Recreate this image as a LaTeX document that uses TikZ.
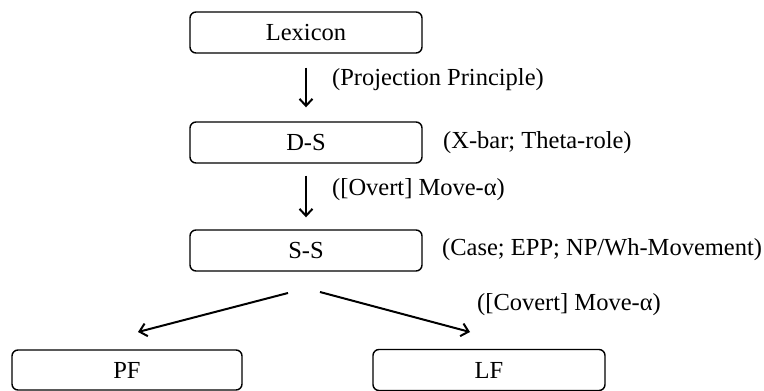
\documentclass[tikz,border=0pt]{standalone}
\usepackage{fontspec}
\setmainfont{Liberation Serif}
\usetikzlibrary{arrows.meta}
\begin{document}
\begin{tikzpicture}[x=1pt,y=-1pt,
  level/.style={draw,line width=1.4pt,rounded corners=6pt,minimum width=232pt,
    minimum height=41pt,inner sep=0pt,font=\fontsize{24.5}{29}\selectfont},
  note/.style={anchor=west,inner sep=0pt,font=\fontsize{24.5}{29}\selectfont},
  flow/.style={line width=2pt,-{Straight Barb[length=7pt,width=13pt,line width=2pt]}}]
\useasboundingbox (0,0) rectangle (764,391);
% levels of representation
\node[level] (lex) at (306,32.5) {Lexicon};
\node[level] (ds) at (306,142.5) {D-S};
\node[level] (ss) at (306,250.5) {S-S};
\node[level,minimum width=230pt,minimum height=40pt] (pf) at (127,370) {PF};
\node[level] (lf) at (489,370) {LF};
% annotations
\node[note] (pp) at (332,80) {(Projection Principle)};
\node[note] (xb) at (443,143) {(X-bar; Theta-role)};
\node[note] (om) at (332,190) {([Overt] Move-α)};
\node[note] (cs) at (442,250) {(Case; EPP; NP/Wh-Movement)};
\node[note] (cm) at (477,305) {([Covert] Move-α)};
% derivation arrows
\draw[flow,shorten <=14pt,shorten >=14pt] (lex) -- (ds);
\draw[flow,shorten <=12pt,shorten >=12pt] (ds) -- (ss);
\coordinate (splitl) at (288,293);
\coordinate (splitr) at (320,292);
\coordinate (pfend) at (138,332);
\coordinate (lfend) at (470,332);
\draw[flow] (splitl) -- (pfend);
\draw[flow] (splitr) -- (lfend);
\end{tikzpicture}
\end{document}
